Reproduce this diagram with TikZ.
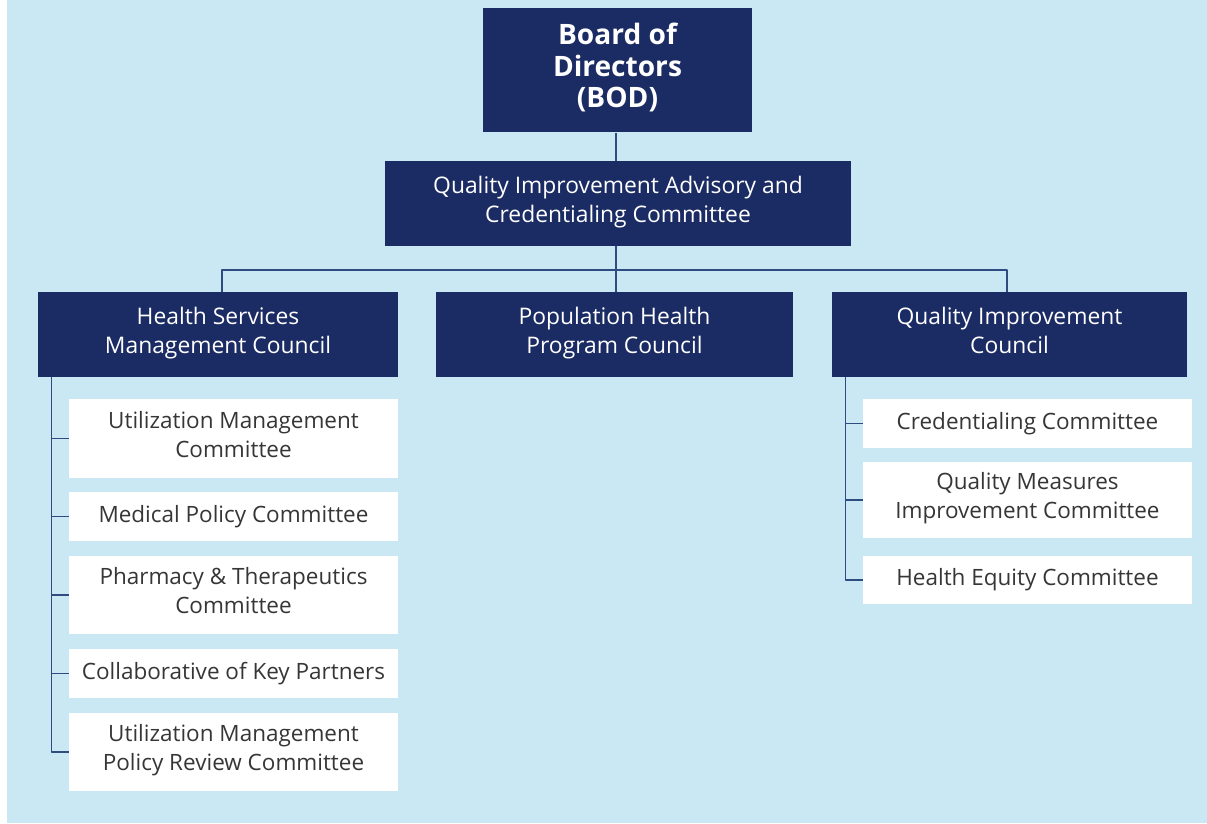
\documentclass[tikz,border=0pt]{standalone}
\usepackage{fontspec}
\setmainfont{Open Sans}
\definecolor{navy}{HTML}{1B2B63}
\definecolor{skyback}{HTML}{C9E8F3}
\definecolor{wire}{HTML}{2F4C80}
\definecolor{ink}{HTML}{363636}
\begin{document}
\begin{tikzpicture}[x=0.02cm,y=-0.02cm,line join=round,
	head/.style={fill=navy,text=white,align=center,inner sep=0pt,font=\fontsize{13}{16.5}\selectfont,
		execute at begin node=\strut,execute at end node=\strut},
	sub/.style={fill=white,text=ink,align=center,inner sep=0pt,minimum width=6.58cm,font=\fontsize{12.8}{16.5}\selectfont,
		execute at begin node=\strut,execute at end node=\strut},
	wire/.style={draw=wire,line width=0.9pt}]
	% Nền
	\fill[white] (0,0) rectangle (1207,823);
	\fill[skyback] (7,0) rectangle (1207,823);
	\useasboundingbox (0,0) rectangle (1207,823);
	% Các khung chính
	\node[head,minimum width=5.38cm,minimum height=2.5cm,font=\bfseries\fontsize{16}{18}\selectfont] (bod) at (617.5,70) {Board of\\Directors\\(BOD)};
	\node[head,minimum width=9.32cm,minimum height=1.7cm] (qiac) at (618,203.5) {Quality Improvement Advisory and\\Credentialing Committee};
	\node[head,minimum width=7.2cm,minimum height=1.7cm] (hsmc) at (218,334.5) {Health Services\\Management Council};
	\node[head,minimum width=7.14cm,minimum height=1.7cm] (phpc) at (614.5,334.5) {Population Health\\Program Council};
	\node[head,minimum width=7.1cm,minimum height=1.7cm] (qic) at (1009.5,334.5) {Quality Improvement\\Council};
	\path (616,270) coordinate (bus)
		(222,270) coordinate (busL)
		(1007,270) coordinate (busR);
	\draw[wire] (bus |- bod.south) -- (bus |- qiac.north);
	\draw[wire] (bus |- qiac.south) -- (bus |- phpc.north);
	\draw[wire] (busL |- hsmc.north) -- (busL) -- (busR) -- (busR |- qic.north);
	% Các ủy ban bên trái
	\foreach \n/\y/\h/\t in {umc/438.5/1.58/{Utilization Management\\Committee},
		mpc/516.5/0.98/{Medical Policy Committee},
		ptc/595/1.56/{Pharmacy \& Therapeutics\\Committee},
		ckp/673.5/0.98/{Collaborative of Key Partners},
		umprc/752/1.56/{Utilization Management\\Policy Review Committee}}{
		\node[sub,minimum height=\h cm] (\n) at (233.5,\y) {\t};
	}
	% Các ủy ban bên phải
	\foreach \n/\y/\h/\t in {cred/423.5/0.98/{Credentialing Committee},
		qmic/500/1.52/{Quality Measures\\Improvement Committee},
		hec/580/0.96/{Health Equity Committee}}{
		\node[sub,minimum height=\h cm] (\n) at (1027.5,\y) {\t};
	}
	\path (hsmc.south west) ++(14,0) coordinate (lt)
		(qic.south west) ++(14,0) coordinate (rt);
	\draw[wire] (lt) |- (umprc.west);
	\draw[wire] (rt) |- (hec.west);
	\foreach \n in {umc,mpc,ptc,ckp}{
		\draw[wire] (lt |- \n.west) -- (\n.west);
	}
	\foreach \n in {cred,qmic}{
		\draw[wire] (rt |- \n.west) -- (\n.west);
	}
\end{tikzpicture}
\end{document}
